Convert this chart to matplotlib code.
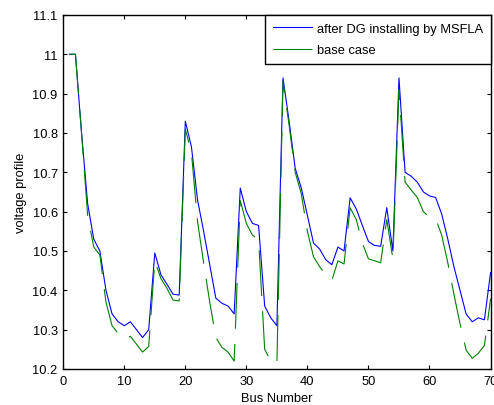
import matplotlib.pyplot as plt

plt.rcParams['font.family'] = ['Liberation Sans', 'DejaVu Sans']
plt.rcParams['lines.scale_dashes'] = False

bus = list(range(1, 71))

after_dg = [11.0, 11.0, 10.80, 10.62, 10.53, 10.50, 10.40, 10.34, 10.32, 10.31,
            10.32, 10.30, 10.28, 10.30, 10.495, 10.44, 10.415, 10.39, 10.388, 10.83,
            10.765, 10.63, 10.55, 10.465, 10.38, 10.367, 10.36, 10.34, 10.66, 10.60,
            10.57, 10.565, 10.36, 10.33, 10.31, 10.94, 10.83, 10.71, 10.66, 10.59,
            10.52, 10.505, 10.478, 10.465, 10.51, 10.50, 10.635, 10.607, 10.565, 10.524,
            10.514, 10.512, 10.61, 10.50, 10.94, 10.70, 10.69, 10.675, 10.65, 10.64,
            10.636, 10.594, 10.53, 10.46, 10.40, 10.34, 10.32, 10.33, 10.325, 10.445]

base_case = [11.0, 11.0, 10.80, 10.59, 10.51, 10.49, 10.37, 10.31, 10.29, 10.275,
             10.283, 10.263, 10.243, 10.257, 10.475, 10.43, 10.405, 10.375, 10.373, 10.81,
             10.75, 10.575, 10.47, 10.37, 10.28, 10.255, 10.243, 10.22, 10.628, 10.57,
             10.54, 10.53, 10.25, 10.22, 10.213, 10.93, 10.82, 10.70, 10.645, 10.55,
             10.485, 10.46, 10.44, 10.425, 10.475, 10.467, 10.61, 10.58, 10.52, 10.48,
             10.475, 10.47, 10.58, 10.48, 10.91, 10.675, 10.655, 10.636, 10.60, 10.586,
             10.583, 10.54, 10.47, 10.39, 10.315, 10.248, 10.227, 10.24, 10.26, 10.378]

xticks = [0, 10, 20, 30, 40, 50, 60, 70]
yticks = [10.2, 10.3, 10.4, 10.5, 10.6, 10.7, 10.8, 10.9, 11.0, 11.1]
ytick_labels = ['10.2', '10.3', '10.4', '10.5', '10.6', '10.7', '10.8', '10.9', '11', '11.1']

fig = plt.figure(figsize=(4.94, 4.06), dpi=100)
ax = fig.add_axes([0.128, 0.0887, 0.865, 0.872])

ax.plot(bus, after_dg, color='#0000ff', linewidth=0.8, label='after DG installing by MSFLA')
ax.plot(bus, base_case, color='#008000', linewidth=0.8, linestyle=(0, (33, 11)), label='base case')

ax.set_xlim(0, 70)
ax.set_ylim(10.2, 11.1)
ax.set_xticks(xticks)
ax.set_yticks(yticks)
ax.set_yticklabels(ytick_labels)
ax.tick_params(direction='in', top=True, right=True, length=3, width=0.8, labelsize=9.3, pad=4)
for s in ax.spines.values():
    s.set_linewidth(1.0)

ax.set_xlabel('Bus Number', fontsize=9.3, labelpad=4)
ax.set_ylabel('voltage profile', fontsize=9.3, labelpad=4)

leg = ax.legend(loc='upper right', borderaxespad=0, fancybox=False, framealpha=1,
                edgecolor='black', fontsize=9.3, handlelength=3.0, borderpad=0.6,
                labelspacing=0.75, handletextpad=0.4)
leg.get_frame().set_linewidth(1.0)

fig.savefig('out.png', dpi=100)
